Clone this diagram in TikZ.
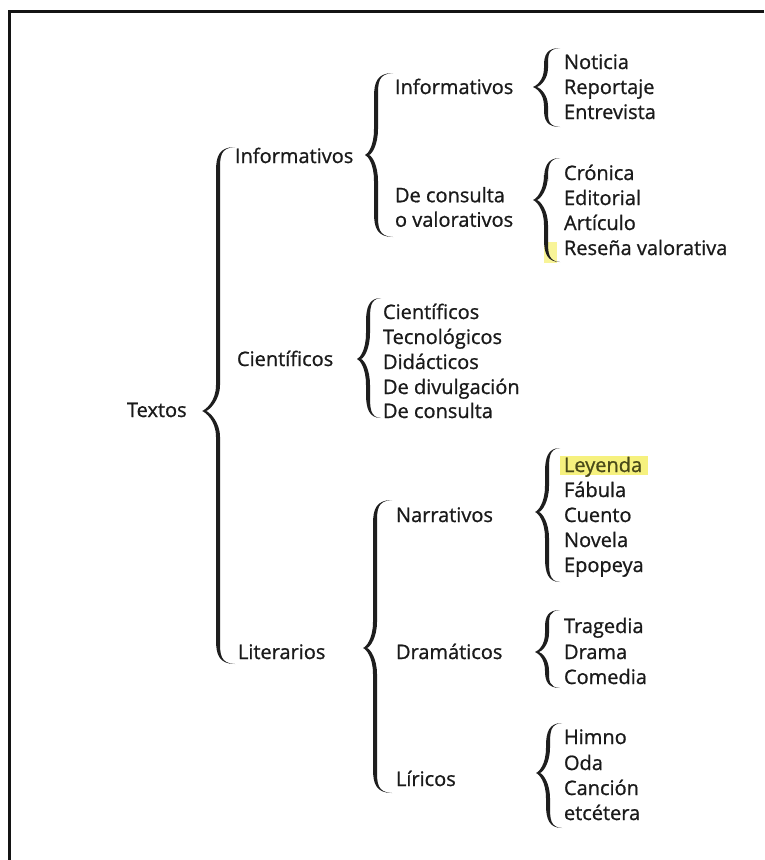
\documentclass[tikz,border=0pt]{standalone}
\usepackage{fontspec}
\setmainfont{Open Sans}[FakeBold=0.9]
\definecolor{txt}{HTML}{1A1A1A}
\definecolor{bracecol}{HTML}{1E1E1E}
\definecolor{hl}{HTML}{F6F17E}
\definecolor{olivetxt}{HTML}{4A4A1A}
\newcommand\tbrace[6]{%
 \pgfmathsetmacro\bh{min(24,0.22*(#6-#4))}%
 \pgfmathsetmacro\bt{min(26,0.24*(#6-#4))}%
 \pgfmathsetmacro\hw{2.0}%
 \fill[bracecol] (#3,#4) .. controls (#2+1,#4) and (#2-\hw,#4+0.4*\bh) .. (#2-\hw,#4+\bh)
 -- (#2-\hw,#5-\bt) .. controls (#2-\hw,#5-0.35*\bt) and (#1+3,#5-1) .. (#1,#5)
 .. controls (#1+3,#5+1) and (#2-\hw,#5+0.35*\bt) .. (#2-\hw,#5+\bt)
 -- (#2-\hw,#6-\bh) .. controls (#2-\hw,#6-0.4*\bh) and (#2+1,#6) .. (#3,#6)
 .. controls (#2+2,#6-0.8) and (#2+\hw,#6-0.4*\bh) .. (#2+\hw,#6-\bh)
 -- (#2+\hw,#5+\bt) .. controls (#2+\hw,#5+0.4*\bt) and (#1+7,#5+0.8) .. (#1+4,#5)
 .. controls (#1+7,#5-0.8) and (#2+\hw,#5-0.4*\bt) .. (#2+\hw,#5-\bt)
 -- (#2+\hw,#4+\bh) .. controls (#2+\hw,#4+0.4*\bh) and (#2+2,#4+0.8) .. (#3,#4) -- cycle;
}
\begin{document}
\begin{tikzpicture}[x=1pt,y=-1pt,
  lab/.style={anchor=base west,inner sep=0pt,outer sep=0pt,text=txt,font=\fontsize{20}{25}\selectfont},
  twolines/.style={anchor=west,inner sep=0pt,outer sep=0pt,text=txt,align=left,font=\fontsize{20}{24.5}\selectfont}]
\useasboundingbox (0,0) rectangle (764,860);
\fill[white] (0,0) rectangle (764,860);
% frame (top and left edges)
\coordinate (frTR) at (764,11.5);
\coordinate (frTL) at (9.5,11.5);
\coordinate (frBL) at (9.5,860);
\draw[line width=3pt,color=black!92] (frTR) -- (frTL) -- (frBL);
% highlights
\fill[hl] (560,456) rectangle (648,475);
\fill[hl!80] (544,242) rectangle (557,263);
% braces: tip x, vertical x, end x, top y, tip y, bottom y
\tbrace{202}{218}{235}{147}{411}{664}
\tbrace{365}{376}{393}{73}{155}{237}
\tbrace{357}{368}{381}{298}{359}{418}
\tbrace{363}{375}{392}{500}{648}{793}
\tbrace{533}{546}{560}{48}{87}{127}
\tbrace{533}{546}{560}{158}{200}{262}
\tbrace{535}{547}{560}{448}{512}{582}
\tbrace{535}{547}{560}{610}{652}{688}
\tbrace{536}{548}{562}{723}{773}{828}
% level 1
\node[lab] (textos) at (127,417) {Textos};
% level 2
\node[lab] (inf) at (235,163) {Informativos};
\node[lab] (cie) at (237,366) {Científicos};
\node[lab] (lit) at (238,659) {Literarios};
% level 3
\node[lab] (inf2) at (395,94) {Informativos};
\node[twolines] (dec) at (395,207) {De consulta\\o valorativos};
\node[lab] (nar) at (396,522) {Narrativos};
\node[lab] (dra) at (396,659) {Dramáticos};
\node[lab] (lir) at (396,786) {Líricos};
% lists
\node[lab] (n1) at (564,69) {Noticia};
\node[lab] (n2) at (564,94) {Reportaje};
\node[lab] (n3) at (564,119) {Entrevista};
\node[lab] (c1) at (564,180) {Crónica};
\node[lab] (c2) at (564,205) {Editorial};
\node[lab] (c3) at (564,230) {Artículo};
\node[lab] (c4) at (564,255) {Reseña valorativa};
\node[lab] (s1) at (383,319) {Científicos};
\node[lab] (s2) at (383,344) {Tecnológicos};
\node[lab] (s3) at (383,369) {Didácticos};
\node[lab] (s4) at (383,394) {De divulgación};
\node[lab] (s5) at (383,418) {De consulta};
\node[lab,text=olivetxt] (r1) at (564,472) {Leyenda};
\node[lab] (r2) at (564,497) {Fábula};
\node[lab] (r3) at (564,522) {Cuento};
\node[lab] (r4) at (564,547) {Novela};
\node[lab] (r5) at (564,572) {Epopeya};
\node[lab] (d1) at (564,633) {Tragedia};
\node[lab] (d2) at (564,659) {Drama};
\node[lab] (d3) at (564,684) {Comedia};
\node[lab] (l1) at (564,744) {Himno};
\node[lab] (l2) at (564,770) {Oda};
\node[lab] (l3) at (564,795) {Canción};
\node[lab] (l4) at (564,820) {etcétera};
\end{tikzpicture}
\end{document}
